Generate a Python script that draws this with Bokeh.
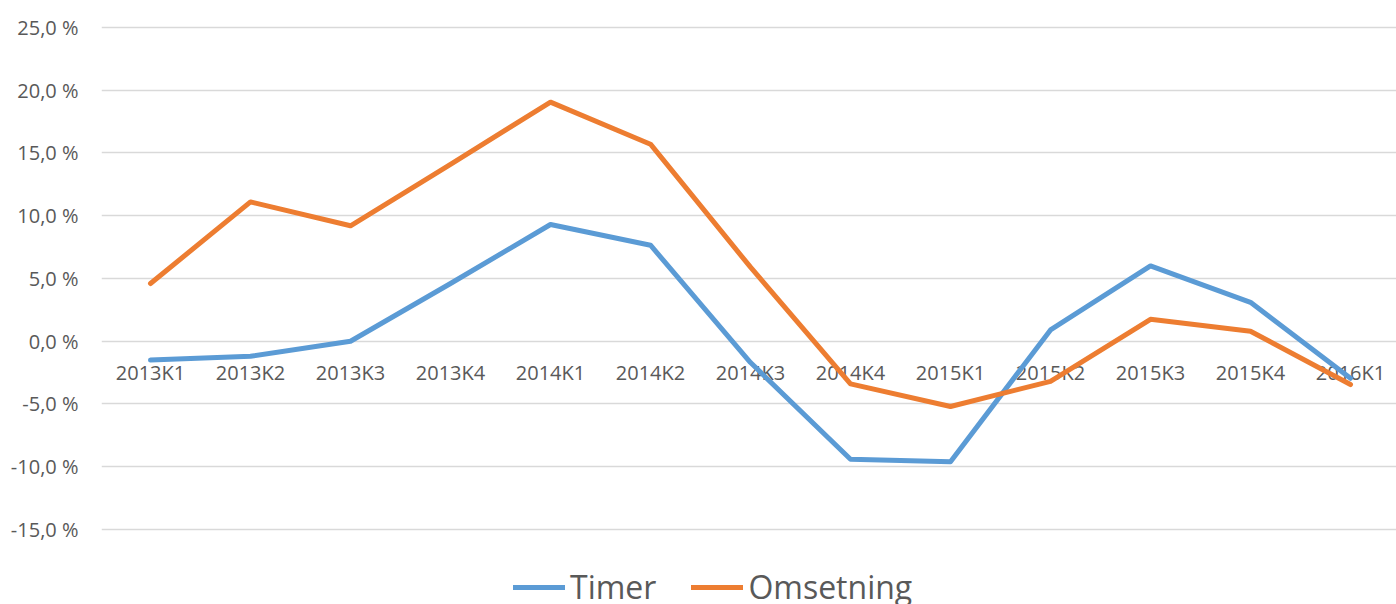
from bokeh.plotting import figure
from bokeh.models import ColumnDataSource, FixedTicker, Legend, LegendItem, Range1d
from bokeh.core.properties import value
from bokeh.embed import file_html
from bokeh.resources import INLINE

categories = ["2013K1", "2013K2", "2013K3", "2013K4", "2014K1", "2014K2", "2014K3",
              "2014K4", "2015K1", "2015K2", "2015K3", "2015K4", "2016K1"]
timer = [-1.5, -1.2, 0.0, 4.6, 9.3, 7.65, -1.7, -9.4, -9.6, 0.9, 6.0, 3.1, -2.95]
omsetning = [4.6, 11.1, 9.2, 14.1, 19.05, 15.7, 5.9, -3.4, -5.2, -3.2, 1.75, 0.8, -3.45]
y_ticks = [-15, -10, -5, 0, 5, 10, 15, 20, 25]
y_tick_labels = ["-15,0 %", "-10,0 %", "-5,0 %", "0,0 %", "5,0 %", "10,0 %", "15,0 %", "20,0 %", "25,0 %"]

FONT = "Open Sans"
GREY = "#595959"

xs = list(range(len(categories)))
src = ColumnDataSource(dict(x=xs, cat=categories, zero=[0] * len(xs),
                            timer=timer, oms=omsetning))

p = figure(width=1396, height=604, output_backend="svg", toolbar_location=None,
           x_range=Range1d(-0.49, 12.46), y_range=Range1d(-20.98, 27.15),
           min_border_left=101, min_border_right=0, min_border_top=0, min_border_bottom=0)
p.outline_line_color = None
p.xaxis.visible = False
p.xgrid.visible = False

yax = p.yaxis[0]
yax.ticker = FixedTicker(ticks=y_ticks)
yax.major_label_overrides = {t: l for t, l in zip(y_ticks, y_tick_labels)}
yax.axis_line_color = None
yax.major_tick_line_color = None
yax.minor_tick_line_color = None
yax.major_tick_out = 0
yax.major_tick_in = 0
yax.major_label_standoff = 23
yax.major_label_text_font = FONT
yax.major_label_text_font_size = "20px"
yax.major_label_text_color = GREY

p.ygrid.ticker = FixedTicker(ticks=y_ticks)
p.ygrid.grid_line_color = "#D9D9D9"
p.ygrid.grid_line_width = 1.5

# category labels at the zero line
p.text(x="x", y="zero", text="cat", source=src, text_align="center",
       text_baseline="middle", y_offset=31, text_font=value(FONT),
       text_font_size="20px", text_color=GREY)

r1 = p.line("x", "timer", source=src, line_color="#5B9BD5", line_width=5,
            line_cap="round", line_join="round")
r2 = p.line("x", "oms", source=src, line_color="#ED7D31", line_width=5,
            line_cap="round", line_join="round")

legend = Legend(items=[LegendItem(label="Timer", renderers=[r1]),
                       LegendItem(label="Omsetning", renderers=[r2])],
                orientation="horizontal", location=(412, -4))
legend.border_line_color = None
legend.background_fill_alpha = 0
legend.padding = 0
legend.margin = 0
legend.spacing = 35
legend.glyph_width = 52
legend.glyph_height = 32
legend.label_height = 32
legend.label_standoff = 5
legend.label_text_font = FONT
legend.label_text_font_size = "32px"
legend.label_text_color = GREY
p.add_layout(legend)

open("out.html", "w").write(file_html(p, INLINE))
